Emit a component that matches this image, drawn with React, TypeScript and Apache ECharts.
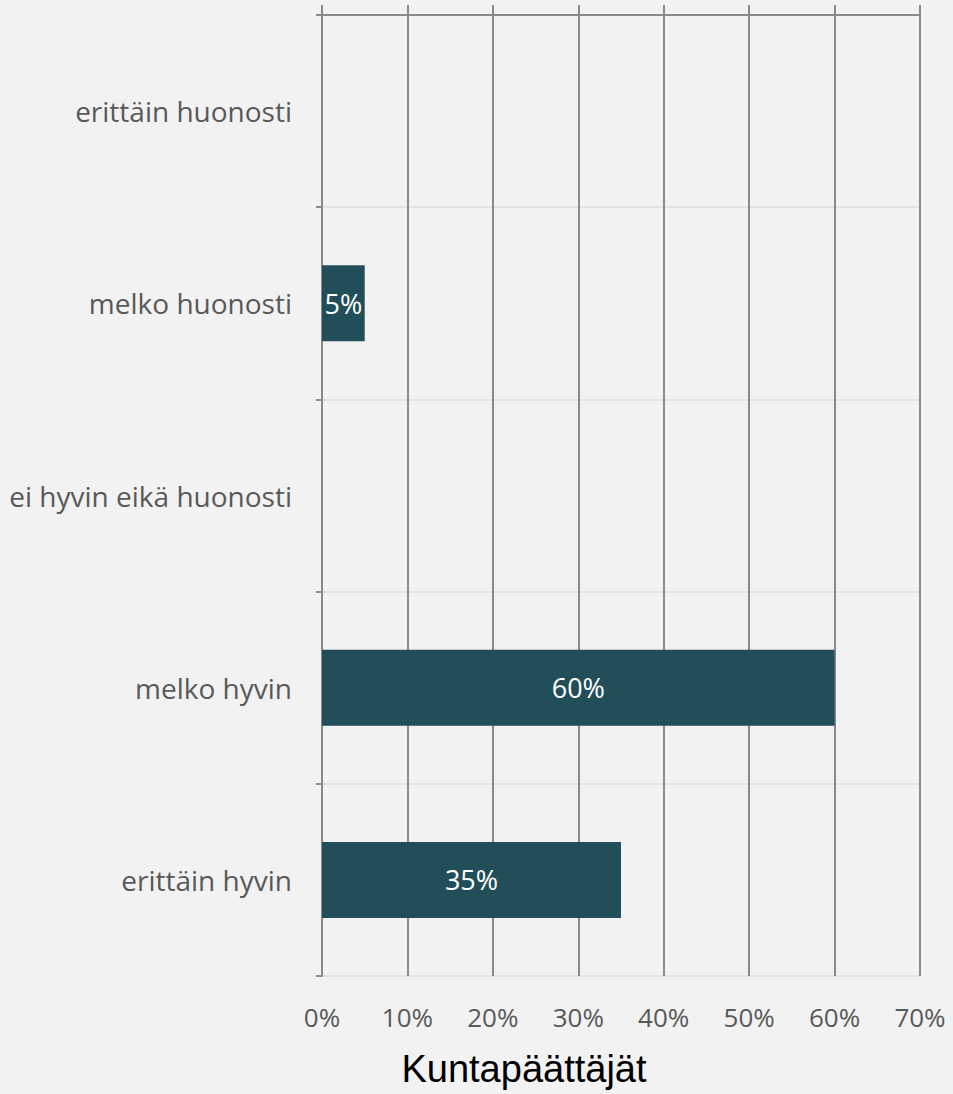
import React, { useEffect, useRef } from "react";
import * as echarts from "echarts";

const categories = [
  "erittäin huonosti",
  "melko huonosti",
  "ei hyvin eikä huonosti",
  "melko hyvin",
  "erittäin hyvin",
];
const values = [0, 5, 0, 60, 35];
const axisTitle = "Kuntapäättäjät";

export default function App() {
  const ref = useRef<HTMLDivElement>(null);
  useEffect(() => {
    const chart = echarts.init(ref.current!, null, { renderer: "svg" });
    const dark = "#8a8a8a";
    const light = "#e2e2e2";
    chart.setOption({
      animation: false,
      backgroundColor: "#f2f2f2",
      grid: { left: 322, right: 33, top: 15, bottom: 118, containLabel: false },
      xAxis: [
        {
          type: "value",
          position: "bottom",
          min: 0,
          max: 70,
          interval: 10,
          axisLine: { show: false },
          axisTick: { show: false },
          axisLabel: {
            formatter: "{value}%",
            color: "#595959",
            fontSize: 26,
            fontFamily: "Open Sans",
            margin: 28,
          },
          splitLine: { show: true, lineStyle: { color: dark, width: 2 } },
        },
        {
          type: "value",
          position: "top",
          min: 0,
          max: 70,
          interval: 10,
          axisLine: { show: true, lineStyle: { color: dark, width: 2 } },
          axisTick: { show: true, length: 10, lineStyle: { color: dark, width: 2 } },
          axisLabel: { show: false },
          splitLine: { show: false },
        },
      ],
      yAxis: {
        type: "category",
        data: categories,
        inverse: true,
        axisLine: { show: true, lineStyle: { color: dark, width: 2 } },
        axisTick: { show: true, length: 6, lineStyle: { color: dark, width: 2 } },
        axisLabel: {
          color: "#595959",
          fontSize: 28,
          fontFamily: "Open Sans",
          margin: 30,
        },
        splitLine: { show: true, lineStyle: { color: light, width: 2 } },
      },
      series: [
        {
          type: "bar",
          xAxisIndex: 0,
          data: values.map((v) => (v === 0 ? null : v)),
          barWidth: 76,
          itemStyle: { color: "#224e5a" },
          label: {
            show: true,
            position: "inside",
            formatter: "{c}%",
            color: "#ffffff",
            fontSize: 27,
            fontFamily: "Open Sans",
          },
        },
      ],
      graphic: [
        {
          type: "text",
          x: 524,
          y: 1069,
          style: {
            text: axisTitle,
            fill: "#000000",
            fontSize: 38,
            fontFamily: "Liberation Sans",
            textAlign: "center",
            textVerticalAlign: "middle",
          },
        },
      ],
    });
    return () => chart.dispose();
  }, []);
  return (
    <div
      ref={ref}
      style={{ position: "absolute", left: 0, top: 0, width: 953, height: 1094 }}
    />
  );
}
